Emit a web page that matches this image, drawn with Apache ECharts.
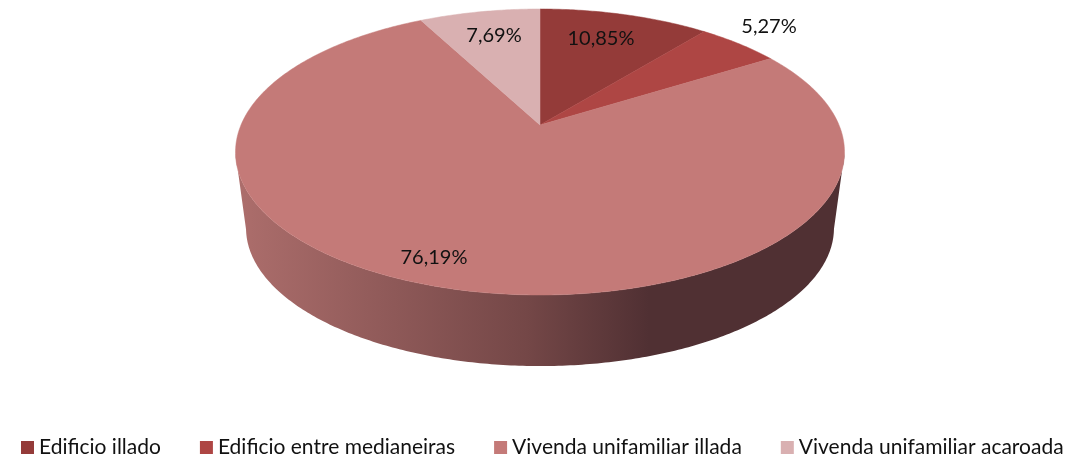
<!DOCTYPE html>
<html>
<head>
<meta charset="utf-8">
<style>
  html, body { margin: 0; padding: 0; background: #fff; }
  #chart { width: 1068px; height: 462px; }
</style>
<script src="https://cdn.jsdelivr.net/npm/echarts@6/dist/echarts.min.js"></script>
</head>
<body>
<div id="chart"></div>
<script>
const categories = ['Edificio illado', 'Edificio entre medianeiras', 'Vivenda unifamiliar illada', 'Vivenda unifamiliar acaroada']
const values = [10.85, 5.27, 76.19, 7.69]

const colors = ['#943b39', '#ae4644', '#c47a78', '#d9b0b1']
const labelSpots = [[601, 39], [769, 27], [434, 258], [494, 36]]
const fontFamily = 'Lato, "Open Sans", sans-serif'

// perspective of the tilted disc: the circle centre lands above the ellipse centre
const centerX = 540
const apexY = 125
const persp = 0.1888
const scaleX = 299
const scaleY = 137.9
// the bottom rim is the top rim shrunk and moved down
const rimTopY = 152
const rimBottomY = 228
const rimScale = 0.9655

const total = values.reduce((a, b) => a + b, 0)

const project = (r, theta) => {
  const x = r * Math.sin(theta)
  const y = -r * Math.cos(theta)
  const w = 1 - persp * y
  return [centerX + (scaleX * x) / w, apexY + (scaleY * y) / w]
}

const toBottom = (p) => [
  centerX + rimScale * (p[0] - centerX),
  rimBottomY + rimScale * (p[1] - rimTopY)
]

const sideColor = new echarts.graphic.LinearGradient(235, 0, 844, 0, [
  { offset: 0, color: '#ad6e6c' },
  { offset: 0.48, color: '#744747' },
  { offset: 0.68, color: '#503033' },
  { offset: 1, color: '#503033' }
], true)

const sliceRender = (index) => (params, api) => {
  const before = values.slice(0, index).reduce((a, b) => a + b, 0)
  const start = (before / total) * Math.PI * 2
  const end = ((before + api.value(0)) / total) * Math.PI * 2
  const steps = Math.ceil((end - start) * 90)

  const arc = []
  const front = []
  for (let i = 0; i <= steps; i++) {
    const t = start + ((end - start) * i) / steps
    const p = project(1, t)
    arc.push(p)
    // only the part of the rim facing the viewer shows a side wall
    if (Math.cos(t) <= -persp) front.push(p)
  }

  const children = []
  if (front.length > 1) {
    const bottom = front.map(toBottom).reverse()
    children.push({
      type: 'polygon',
      shape: { points: front.concat(bottom) },
      style: { fill: sideColor }
    })
  }
  children.push({
    type: 'polygon',
    shape: { points: [[centerX, apexY]].concat(arc) },
    style: { fill: colors[index], stroke: colors[index], lineWidth: 0.5 }
  })
  children.push({
    type: 'text',
    x: labelSpots[index][0],
    y: labelSpots[index][1],
    z2: 10,
    style: {
      text: api.value(0).toFixed(2).replace('.', ',') + '%',
      fill: '#111',
      font: '20px ' + fontFamily,
      align: 'center',
      verticalAlign: 'middle'
    }
  })
  return { type: 'group', children }
}

const chart = echarts.init(document.getElementById('chart'))

chart.setOption({
  animation: false,
  legend: {
    left: 21,
    top: 437,
    itemWidth: 13,
    itemHeight: 13,
    itemGap: 39,
    icon: 'rect',
    selectedMode: false,
    padding: 0,
    data: categories,
    textStyle: { fontFamily, fontSize: 21, color: '#111' }
  },
  series: categories.map((name, index) => ({
    name,
    type: 'custom',
    coordinateSystem: 'none',
    silent: true,
    itemStyle: { color: colors[index] },
    data: [[values[index]]],
    renderItem: sliceRender(index)
  }))
})

window.addEventListener('resize', () => chart.resize())
</script>
</body>
</html>
